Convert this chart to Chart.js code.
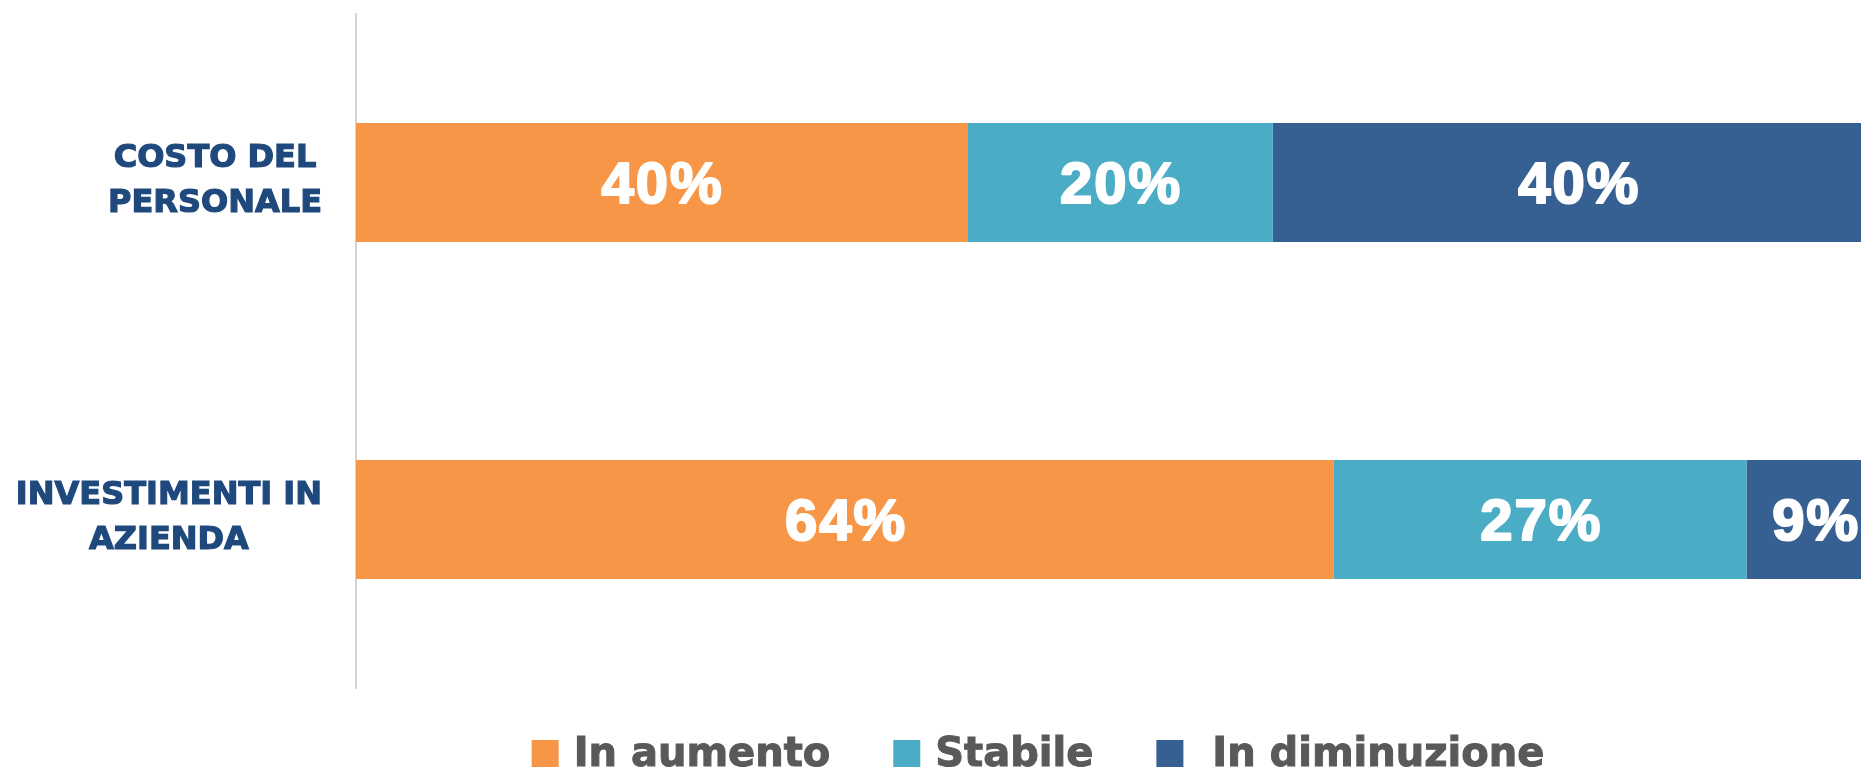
<!DOCTYPE html>
<html>
<head>
<meta charset="utf-8">
<script src="https://cdn.jsdelivr.net/npm/chart.js@4/dist/chart.umd.min.js"></script>
<style>
    html, body { margin: 0; padding: 0; background: #ffffff; overflow: hidden; }
    #wrap { width: 1861px; height: 769px; overflow: hidden; }
</style>
</head>
<body>
<div id="wrap"><canvas id="chart" width="1884" height="769"></canvas></div>
<script>
// Data
const categories = [['COSTO DEL', 'PERSONALE'], ['INVESTIMENTI IN', 'AZIENDA']];
const seriesNames = ['In aumento', 'Stabile', ' In diminuzione'];
const inAumento = [40, 64];
const stabile = [20, 27];
const inDiminuzione = [40, 9];
const seriesColors = ['#F79646', '#4BACC6', '#366092'];

// Category labels: each label block right aligned, its lines centred inside it
const categoryLabels = {
    id: 'categoryLabels',
    afterDraw(chart) {
        const ctx = chart.ctx;
        const yScale = chart.scales.y;
        const blockRight = 322, lineGap = 45;
        ctx.save();
        ctx.font = 'bold 32px "DejaVu Sans"';
        ctx.fillStyle = '#1F497D';
        ctx.strokeStyle = '#1F497D';
        ctx.lineWidth = 1.2;
        ctx.textAlign = 'center';
        ctx.textBaseline = 'middle';
        chart.data.labels.forEach((lines, i) => {
            const y = yScale.getPixelForTick(i) - 1;
            const blockW = Math.max(...lines.map(l => ctx.measureText(l).width));
            const cx = blockRight - blockW / 2;
            lines.forEach((line, k) => {
                const ly = y + (k - (lines.length - 1) / 2) * lineGap;
                ctx.strokeText(line, cx, ly);
                ctx.fillText(line, cx, ly);
            });
        });
        ctx.restore();
    }
};

// White percentage labels in the middle of each segment
const segmentLabels = {
    id: 'segmentLabels',
    afterDatasetsDraw(chart) {
        const ctx = chart.ctx;
        ctx.save();
        ctx.font = 'bold 58px "Liberation Sans"';
        ctx.letterSpacing = '2px';
        ctx.fillStyle = '#ffffff';
        ctx.strokeStyle = '#ffffff';
        ctx.lineWidth = 2.2;
        ctx.lineJoin = 'round';
        ctx.textAlign = 'center';
        ctx.textBaseline = 'middle';
        chart.data.datasets.forEach((ds, i) => {
            chart.getDatasetMeta(i).data.forEach((bar, j) => {
                const p = bar.getProps(['x', 'y', 'base'], true);
                const text = ds.data[j] + '%';
                const cx = (p.x + p.base) / 2 + 1;
                ctx.strokeText(text, cx, p.y + 4);
                ctx.fillText(text, cx, p.y + 4);
            });
        });
        ctx.restore();
    }
};

// Legend drawn below the plot
const bottomLegend = {
    id: 'bottomLegend',
    afterDraw(chart) {
        const ctx = chart.ctx;
        const box = 27, gapText = 15, gapItem = 63, centerX = 1038, boxTop = 740, baseline = 766;
        ctx.save();
        ctx.font = 'bold 40px "DejaVu Sans"';
        ctx.textBaseline = 'alphabetic';
        ctx.textAlign = 'left';
        ctx.lineWidth = 1;
        const items = chart.data.datasets.map(ds => ({
            label: ds.label,
            color: ds.backgroundColor,
            w: ctx.measureText(ds.label).width
        }));
        const total = items.reduce((s, it) => s + box + gapText + it.w, 0) + gapItem * (items.length - 1);
        let x = centerX - total / 2;
        items.forEach(it => {
            ctx.fillStyle = it.color;
            ctx.fillRect(x, boxTop, box, box);
            x += box + gapText;
            ctx.fillStyle = '#595959';
            ctx.strokeStyle = '#595959';
            ctx.strokeText(it.label, x, baseline);
            ctx.fillText(it.label, x, baseline);
            x += it.w + gapItem;
        });
        ctx.restore();
    }
};

const ctx = document.getElementById('chart').getContext('2d');
new Chart(ctx, {
    type: 'bar',
    data: {
        labels: categories,
        datasets: [
            { label: seriesNames[0], data: inAumento, backgroundColor: seriesColors[0] },
            { label: seriesNames[1], data: stabile, backgroundColor: seriesColors[1] },
            { label: seriesNames[2], data: inDiminuzione, backgroundColor: seriesColors[2] }
        ]
    },
    options: {
        indexAxis: 'y',
        responsive: false,
        animation: false,
        devicePixelRatio: 1,
        categoryPercentage: 1,
        barPercentage: 0.353,
        borderWidth: 0,
        layout: { padding: { top: 14, bottom: 81, left: 0, right: 0 } },
        plugins: {
            legend: { display: false },
            tooltip: { enabled: false }
        },
        scales: {
            x: {
                stacked: true,
                display: false,
                min: 0,
                max: 100
            },
            y: {
                stacked: true,
                grid: { display: false, drawTicks: false },
                border: { display: true, color: '#d4d4d4', width: 2 },
                ticks: { display: false, padding: 0 },
                afterFit(scale) {
                    scale.width = 356;
                    scale.paddingTop = 0;
                    scale.paddingBottom = 0;
                }
            }
        }
    },
    plugins: [segmentLabels, categoryLabels, bottomLegend]
});
</script>
</body>
</html>
